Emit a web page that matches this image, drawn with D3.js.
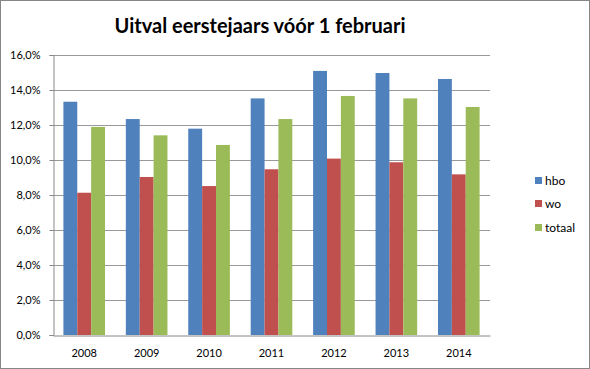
<!DOCTYPE html>
<html>
<head>
<meta charset="utf-8">
<script src="https://cdn.jsdelivr.net/npm/d3@7"></script>
<style>
  body { margin: 0; background: #fff; }
  text { font-family: Lato, "Open Sans", sans-serif; }
</style>
</head>
<body>
<div id="chart"></div>
<script>
// data
var years = ["2008", "2009", "2010", "2011", "2012", "2013", "2014"]
var hbo = [13.33, 12.34, 11.79, 13.52, 15.09, 14.97, 14.63]
var wo = [8.13, 9.03, 8.51, 9.47, 10.08, 9.87, 9.18]
var totaal = [11.89, 11.41, 10.86, 12.34, 13.66, 13.52, 13.03]
var seriesNames = ["hbo", "wo", "totaal"]
var yTicks = [0, 2, 4, 6, 8, 10, 12, 14, 16]

var width = 590
var height = 369
var colors = ["#4f81bd", "#c0504d", "#9bbb59"]

var svg = d3.select("#chart")
  .append("svg")
    .attr("width", width)
    .attr("height", height)

// outer frame
svg.append("rect")
  .attr("x", 0.5).attr("y", 0.5)
  .attr("width", width - 1).attr("height", height - 1)
  .attr("fill", "#fff")
  .attr("stroke", "#868686")

svg.append("text")
  .attr("x", 260)
  .attr("y", 33)
  .attr("text-anchor", "middle")
  .style("font-size", "20px")
  .style("font-weight", "bold")
  .text("Uitval eerstejaars vóór 1 februari")

var plotLeft = 53, plotRight = 490, plotTop = 55, plotBottom = 335

var x = d3.scaleBand()
  .domain(years)
  .range([plotLeft, plotRight])

var y = d3.scaleLinear()
  .domain([0, 16])
  .range([plotBottom, plotTop])

var fmt = d => d.toFixed(1).replace(".", ",") + "%"

// gridlines
svg.append("g")
  .selectAll("line")
  .data(yTicks.slice(1))
  .enter().append("line")
    .attr("x1", plotLeft).attr("x2", plotRight)
    .attr("y1", d => Math.round(y(d)) + 0.5)
    .attr("y2", d => Math.round(y(d)) + 0.5)
    .attr("stroke", "#999")

// bars, gap width 150% like excel
var data = [hbo, wo, totaal]
var barW = x.bandwidth() / 4.5

seriesNames.forEach(function(name, si) {
  svg.append("g")
    .selectAll("rect")
    .data(data[si])
    .enter().append("rect")
      .attr("x", (d, i) => x(years[i]) + barW * 0.75 + si * barW)
      .attr("y", d => y(d))
      .attr("width", barW)
      .attr("height", d => plotBottom - y(d))
      .style("fill", colors[si])
})

// axes
var yAxis = svg.append("g")
  .attr("transform", "translate(" + (plotLeft + 0.5) + ",0)")
  .call(d3.axisLeft(y).tickValues(yTicks).tickFormat(fmt).tickSize(4).tickPadding(9))
yAxis.select(".domain").attr("stroke", "#888")
yAxis.selectAll("line").attr("stroke", "#888")
yAxis.selectAll("text").style("font-size", "11px").attr("fill", "#000")

var xAxis = svg.append("g")
  .attr("transform", "translate(0," + (plotBottom + 0.5) + ")")
  .call(d3.axisBottom(x).tickSize(0).tickPadding(14))
xAxis.select(".domain").attr("stroke", "#888")
xAxis.selectAll("text").style("font-size", "11px").attr("fill", "#000")

// legend
var legend = svg.append("g")
  .selectAll("g")
  .data(seriesNames)
  .enter().append("g")
    .attr("transform", (d, i) => "translate(535," + [177, 200, 224][i] + ")")

legend.append("rect")
  .attr("width", 7).attr("height", 7)
  .style("fill", (d, i) => colors[i])

legend.append("text")
  .attr("x", 10)
  .attr("y", 8)
  .style("font-size", "12px")
  .text(d => d)
</script>
</body>
</html>
